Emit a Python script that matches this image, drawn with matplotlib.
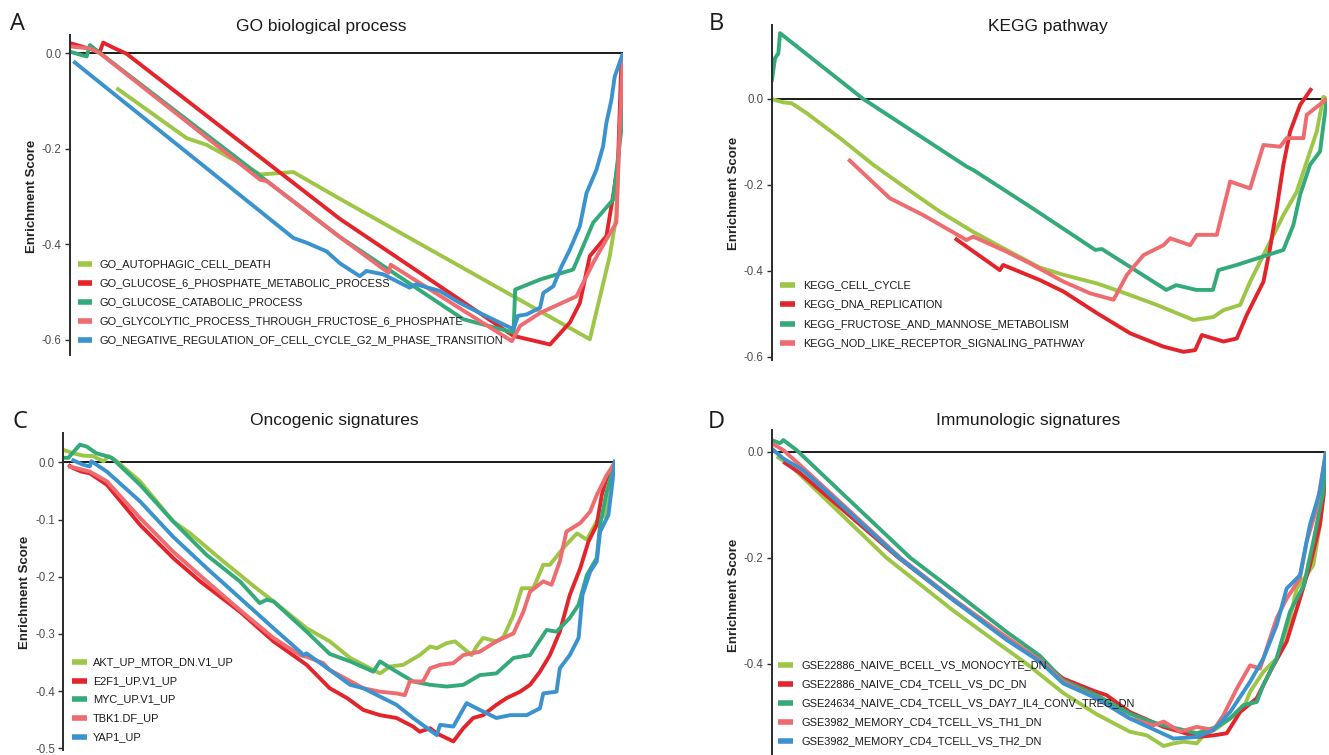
import matplotlib
matplotlib.use("Agg")
import matplotlib.pyplot as plt
from matplotlib.lines import Line2D

plt.rcParams['font.family'] = ['Liberation Sans', 'DejaVu Sans']
plt.rcParams['axes.unicode_minus'] = False

# ---------------- data: running enrichment scores (rank fraction, ES) ----------------
# A. GO biological process
go_names = ["GO_AUTOPHAGIC_CELL_DEATH",
            "GO_GLUCOSE_6_PHOSPHATE_METABOLIC_PROCESS",
            "GO_GLUCOSE_CATABOLIC_PROCESS",
            "GO_GLYCOLYTIC_PROCESS_THROUGH_FRUCTOSE_6_PHOSPHATE",
            "GO_NEGATIVE_REGULATION_OF_CELL_CYCLE_G2_M_PHASE_TRANSITION"]
go_autophagic_x = [0.084, 0.211, 0.247, 0.344, 0.404, 0.488, 0.940, 0.976, 0.988, 0.994, 1.0]
go_autophagic_y = [-0.073, -0.178, -0.192, -0.254, -0.249, -0.305, -0.599, -0.425, -0.341, -0.150, 0.0]
go_g6p_x = [0.0, 0.054, 0.060, 0.081, 0.102, 0.488, 0.802, 0.868, 0.904, 0.922, 0.940, 0.970, 0.982, 0.991, 0.997, 1.0]
go_g6p_y = [0.021, 0.003, 0.022, 0.010, -0.001, -0.347, -0.592, -0.610, -0.564, -0.523, -0.425, -0.383, -0.300, -0.230, -0.021, 0.0]
go_catabolic_x = [0.0, 0.030, 0.036, 0.051, 0.488, 0.711, 0.802, 0.805, 0.850, 0.910, 0.946, 0.982, 0.997, 1.0]
go_catabolic_y = [0.003, -0.007, 0.017, 0.003, -0.385, -0.557, -0.585, -0.495, -0.474, -0.453, -0.355, -0.307, -0.160, 0.0]
go_glycolytic_x = [0.0, 0.036, 0.054, 0.344, 0.356, 0.488, 0.576, 0.580, 0.799, 0.814, 0.850, 0.916, 0.946, 0.970, 0.988, 0.994, 1.0]
go_glycolytic_y = [0.014, 0.010, 0.0, -0.265, -0.268, -0.385, -0.460, -0.443, -0.603, -0.571, -0.544, -0.509, -0.439, -0.390, -0.355, -0.160, 0.0]
go_negreg_x = [0.006, 0.404, 0.428, 0.464, 0.488, 0.524, 0.536, 0.566, 0.614, 0.626, 0.669, 0.705, 0.741, 0.802,
               0.810, 0.826, 0.850, 0.856, 0.874, 0.889, 0.904, 0.922, 0.934, 0.952, 0.964, 0.970, 0.979, 0.985, 1.0]
go_negreg_y = [-0.017, -0.387, -0.397, -0.415, -0.440, -0.467, -0.456, -0.463, -0.491, -0.484, -0.498, -0.523, -0.544, -0.578,
               -0.550, -0.547, -0.533, -0.502, -0.488, -0.446, -0.411, -0.362, -0.293, -0.244, -0.195, -0.146, -0.098, -0.049, 0.0]

# B. KEGG pathway
kegg_names = ["KEGG_CELL_CYCLE",
              "KEGG_DNA_REPLICATION",
              "KEGG_FRUCTOSE_AND_MANNOSE_METABOLISM",
              "KEGG_NOD_LIKE_RECEPTOR_SIGNALING_PATHWAY"]
kegg_cycle_x = [0.0, 0.021, 0.036, 0.063, 0.123, 0.183, 0.243, 0.303, 0.363, 0.423, 0.483, 0.526, 0.586, 0.646, 0.694,
                0.760, 0.796, 0.814, 0.844, 0.862, 0.886, 0.922, 0.946, 0.964, 0.982, 0.994, 1.0]
kegg_cycle_y = [0.0, -0.008, -0.010, -0.033, -0.091, -0.153, -0.208, -0.262, -0.309, -0.351, -0.392, -0.409, -0.429, -0.456, -0.479,
                -0.514, -0.507, -0.491, -0.479, -0.425, -0.363, -0.270, -0.216, -0.146, -0.076, 0.005, 0.0]
kegg_dna_x = [0.330, 0.411, 0.417, 0.483, 0.526, 0.586, 0.646, 0.706, 0.742, 0.763, 0.775, 0.814, 0.838, 0.856,
              0.886, 0.898, 0.910, 0.922, 0.934, 0.952, 0.973]
kegg_dna_y = [-0.324, -0.398, -0.386, -0.421, -0.448, -0.498, -0.545, -0.576, -0.588, -0.584, -0.549, -0.564, -0.557, -0.502,
              -0.425, -0.347, -0.254, -0.153, -0.076, -0.014, 0.025]
kegg_fructose_x = [0.0, 0.006, 0.012, 0.015, 0.165, 0.351, 0.363, 0.465, 0.583, 0.595, 0.711, 0.729, 0.765, 0.795,
                   0.805, 0.838, 0.874, 0.922, 0.940, 0.952, 0.970, 0.988, 1.0]
kegg_fructose_y = [0.040, 0.095, 0.106, 0.153, 0.0, -0.157, -0.165, -0.250, -0.351, -0.349, -0.444, -0.433, -0.444, -0.444,
                   -0.398, -0.386, -0.371, -0.351, -0.293, -0.223, -0.153, -0.122, 0.0]
kegg_nod_x = [0.138, 0.213, 0.273, 0.351, 0.363, 0.423, 0.465, 0.526, 0.574, 0.616, 0.640, 0.670, 0.706, 0.718, 0.754,
              0.766, 0.802, 0.826, 0.862, 0.886, 0.916, 0.928, 0.958, 0.964, 1.0]
kegg_nod_y = [-0.140, -0.231, -0.270, -0.328, -0.320, -0.355, -0.382, -0.425, -0.452, -0.467, -0.409, -0.363, -0.340, -0.324, -0.340,
              -0.316, -0.316, -0.192, -0.208, -0.107, -0.111, -0.091, -0.091, -0.037, 0.0]

# C. Oncogenic signatures
onc_names = ["AKT_UP_MTOR_DN.V1_UP", "E2F1_UP.V1_UP", "MYC_UP.V1_UP", "TBK1.DF_UP", "YAP1_UP"]
onc_akt_x = [0.0, 0.018, 0.036, 0.054, 0.073, 0.082, 0.097, 0.139, 0.199, 0.230, 0.290, 0.350, 0.381, 0.441, 0.483,
             0.520, 0.544, 0.574, 0.592, 0.616, 0.646, 0.665, 0.677, 0.695, 0.710, 0.725, 0.740, 0.749, 0.761, 0.785,
             0.798, 0.816, 0.831, 0.852, 0.870, 0.882, 0.906, 0.931, 0.949, 0.967, 0.982, 0.991, 1.0]
onc_akt_y = [0.022, 0.016, 0.012, 0.011, 0.002, 0.011, 0.002, -0.033, -0.103, -0.124, -0.173, -0.220, -0.243, -0.290, -0.313,
             -0.342, -0.354, -0.369, -0.357, -0.354, -0.337, -0.322, -0.325, -0.316, -0.313, -0.325, -0.337, -0.322, -0.307, -0.313,
             -0.305, -0.267, -0.220, -0.220, -0.179, -0.179, -0.150, -0.124, -0.135, -0.103, -0.092, -0.027, 0.0]
onc_e2f1_x = [0.009, 0.018, 0.033, 0.048, 0.079, 0.139, 0.199, 0.248, 0.320, 0.381, 0.441, 0.483, 0.514, 0.544, 0.574,
              0.604, 0.634, 0.646, 0.665, 0.677, 0.707, 0.725, 0.743, 0.761, 0.785, 0.804, 0.828, 0.846, 0.864, 0.882,
              0.900, 0.918, 0.937, 0.952, 0.967, 0.976, 0.985, 1.0]
onc_e2f1_y = [-0.004, -0.010, -0.016, -0.019, -0.039, -0.109, -0.167, -0.208, -0.261, -0.313, -0.354, -0.395, -0.412, -0.433, -0.442,
              -0.447, -0.462, -0.471, -0.465, -0.474, -0.488, -0.465, -0.447, -0.442, -0.424, -0.412, -0.401, -0.389, -0.366, -0.337,
              -0.296, -0.232, -0.185, -0.138, -0.109, -0.057, -0.027, 0.0]
onc_myc_x = [0.0, 0.009, 0.030, 0.042, 0.060, 0.079, 0.088, 0.139, 0.199, 0.260, 0.320, 0.356, 0.369, 0.381, 0.441, 0.483,
             0.520, 0.562, 0.574, 0.604, 0.634, 0.665, 0.695, 0.725, 0.755, 0.785, 0.816, 0.846, 0.876, 0.894, 0.918,
             0.934, 0.949, 0.967, 0.973, 0.985, 1.0]
onc_myc_y = [0.008, 0.008, 0.031, 0.028, 0.016, 0.011, 0.008, -0.039, -0.103, -0.162, -0.208, -0.246, -0.240, -0.243, -0.296, -0.335,
             -0.348, -0.366, -0.348, -0.366, -0.383, -0.389, -0.392, -0.389, -0.372, -0.369, -0.342, -0.337, -0.293, -0.296, -0.272,
             -0.249, -0.197, -0.167, -0.109, -0.051, 0.0]
onc_tbk1_x = [0.009, 0.024, 0.048, 0.079, 0.139, 0.199, 0.260, 0.320, 0.381, 0.429, 0.441, 0.471, 0.483, 0.544, 0.574,
              0.604, 0.619, 0.628, 0.652, 0.665, 0.683, 0.707, 0.725, 0.755, 0.785, 0.816, 0.834, 0.846, 0.870, 0.885,
              0.900, 0.912, 0.937, 0.955, 0.967, 0.985, 1.0]
onc_tbk1_y = [-0.007, -0.010, -0.016, -0.033, -0.097, -0.156, -0.208, -0.258, -0.307, -0.337, -0.340, -0.351, -0.363, -0.395, -0.401,
              -0.404, -0.407, -0.383, -0.383, -0.360, -0.354, -0.351, -0.337, -0.331, -0.313, -0.299, -0.261, -0.226, -0.208, -0.214,
              -0.173, -0.121, -0.106, -0.086, -0.057, -0.022, 0.0]
onc_yap1_x = [0.015, 0.036, 0.048, 0.051, 0.079, 0.139, 0.199, 0.260, 0.320, 0.381, 0.429, 0.435, 0.441, 0.483, 0.520,
              0.544, 0.604, 0.634, 0.677, 0.683, 0.707, 0.731, 0.749, 0.785, 0.810, 0.840, 0.864, 0.870, 0.894, 0.900,
              0.918, 0.934, 0.941, 0.955, 0.967, 0.973, 0.988, 0.994, 1.0]
onc_yap1_y = [0.005, -0.004, -0.007, 0.002, -0.016, -0.068, -0.130, -0.185, -0.237, -0.290, -0.331, -0.337, -0.334, -0.363, -0.389,
              -0.395, -0.424, -0.447, -0.477, -0.459, -0.462, -0.421, -0.430, -0.447, -0.442, -0.442, -0.430, -0.404, -0.401, -0.360,
              -0.337, -0.307, -0.232, -0.191, -0.173, -0.121, -0.092, -0.045, 0.005]

# D. Immunologic signatures
imm_names = ["GSE22886_NAIVE_BCELL_VS_MONOCYTE_DN",
             "GSE22886_NAIVE_CD4_TCELL_VS_DC_DN",
             "GSE24634_NAIVE_CD4_TCELL_VS_DAY7_IL4_CONV_TREG_DN",
             "GSE3982_MEMORY_CD4_TCELL_VS_TH1_DN",
             "GSE3982_MEMORY_CD4_TCELL_VS_TH2_DN"]
imm_bcell_x = [0.009, 0.033, 0.207, 0.328, 0.400, 0.460, 0.526, 0.586, 0.646, 0.677, 0.707, 0.725, 0.743, 0.767,
               0.779, 0.803, 0.827, 0.851, 0.863, 0.887, 0.911, 0.935, 0.947, 0.965, 0.977, 0.989, 0.998, 1.0]
imm_bcell_y = [-0.009, -0.025, -0.200, -0.300, -0.355, -0.400, -0.455, -0.495, -0.528, -0.535, -0.555, -0.550, -0.547, -0.550,
               -0.535, -0.522, -0.503, -0.484, -0.453, -0.415, -0.390, -0.314, -0.258, -0.233, -0.214, -0.138, -0.044, 0.0]
imm_dc_x = [0.021, 0.051, 0.229, 0.328, 0.424, 0.484, 0.526, 0.586, 0.604, 0.646, 0.707, 0.737, 0.767, 0.797, 0.821,
            0.845, 0.875, 0.899, 0.929, 0.953, 0.971, 0.989, 0.996, 1.0]
imm_dc_y = [-0.019, -0.040, -0.200, -0.280, -0.352, -0.393, -0.428, -0.453, -0.459, -0.491, -0.519, -0.528, -0.538, -0.535, -0.531,
            -0.491, -0.465, -0.415, -0.358, -0.277, -0.214, -0.138, -0.080, 0.0]
imm_treg_x = [0.0, 0.015, 0.021, 0.045, 0.250, 0.328, 0.424, 0.484, 0.526, 0.586, 0.646, 0.683, 0.707, 0.767, 0.803,
              0.827, 0.851, 0.875, 0.887, 0.911, 0.935, 0.960, 0.977, 0.995, 1.0]
imm_treg_y = [0.022, 0.016, 0.022, 0.003, -0.200, -0.262, -0.340, -0.385, -0.431, -0.459, -0.494, -0.509, -0.516, -0.531, -0.519,
              -0.503, -0.478, -0.472, -0.440, -0.390, -0.302, -0.252, -0.170, -0.075, 0.0]
imm_th1_x = [0.0, 0.021, 0.051, 0.232, 0.328, 0.424, 0.484, 0.526, 0.586, 0.646, 0.689, 0.707, 0.737, 0.767, 0.797,
             0.815, 0.839, 0.863, 0.881, 0.911, 0.929, 0.953, 0.965, 0.983, 1.0]
imm_th1_y = [0.016, 0.003, -0.025, -0.200, -0.278, -0.350, -0.393, -0.434, -0.465, -0.503, -0.516, -0.509, -0.528, -0.519, -0.525,
             -0.497, -0.447, -0.403, -0.409, -0.314, -0.277, -0.239, -0.170, -0.107, 0.0]
imm_th2_x = [0.0, 0.021, 0.051, 0.060, 0.230, 0.328, 0.424, 0.484, 0.526, 0.586, 0.646, 0.725, 0.767, 0.797, 0.827,
             0.863, 0.887, 0.911, 0.929, 0.953, 0.971, 0.989, 1.0]
imm_th2_y = [0.006, -0.013, -0.031, -0.038, -0.200, -0.280, -0.355, -0.396, -0.437, -0.465, -0.503, -0.541, -0.538, -0.525, -0.491,
             -0.434, -0.390, -0.327, -0.258, -0.233, -0.138, -0.075, 0.0]

# ---------------- styling ----------------
COLORS = ["#9DC646", "#E3242B", "#34A97A", "#EE6B70", "#3A93CF"]
W, H = 1329, 755
fig = plt.figure(figsize=(W / 100, H / 100), dpi=100)


def fx(px):
    return px / W


def fy(py):
    return 1 - py / H


def make_panel(box, ylim, yticks, ylabels, curves, names, legend, title, title_xy,
               letter, letter_xy, ylabel_xy):
    left, top, right, bottom = box
    ax = fig.add_axes([fx(left), fy(bottom), (right - left) / W, (bottom - top) / H])
    ax.set_xlim(0, 1)
    ax.set_ylim(*ylim)
    for s in ("top", "right", "bottom"):
        ax.spines[s].set_visible(False)
    ax.spines["left"].set_color("#2b2b2b")
    ax.spines["left"].set_linewidth(1.4)
    ax.set_xticks([])
    ax.set_yticks(yticks)
    ax.set_yticklabels(ylabels)
    ax.tick_params(axis="y", length=3.5, width=1.0, color="#2b2b2b", labelsize=8.3,
                   labelcolor="#4d4d4d", pad=2.5)
    ax.patch.set_alpha(0)
    ax.axhline(0, color="#1a1a1a", lw=1.4, zorder=1)
    for (xs, ys), c in zip(curves, COLORS):
        ax.plot(xs, ys, color=c, lw=2.8, solid_joinstyle="round", solid_capstyle="butt", zorder=2)

    # legend: coloured key segment followed by the gene-set name
    sx0, sx1, tx, rows = legend
    for name, c, ry in zip(names, COLORS, rows):
        fig.add_artist(Line2D([fx(sx0), fx(sx1)], [fy(ry), fy(ry)], transform=fig.transFigure,
                              color=c, lw=4.0, solid_capstyle="butt"))
        fig.text(fx(tx), fy(ry), name, ha="left", va="center", fontsize=7.9, color="#1a1a1a")

    fig.text(fx(title_xy[0]), fy(title_xy[1]), title, ha="center", va="center",
             fontsize=12.5, color="#1a1a1a")
    fig.text(fx(letter_xy[0]), fy(letter_xy[1]), letter, ha="center", va="center",
             fontsize=17, color="#1a1a1a", family=["Open Sans", "DejaVu Sans"])
    fig.text(fx(ylabel_xy[0]), fy(ylabel_xy[1]), "Enrichment Score", rotation=90,
             ha="center", va="center", fontsize=9.5, fontweight="bold", color="#222222")
    return ax


make_panel((70, 35, 623, 355), (-0.632, 0.038), [0, -0.2, -0.4, -0.6], ["0.0", "-0.2", "-0.4", "-0.6"],
           [(go_autophagic_x, go_autophagic_y), (go_g6p_x, go_g6p_y), (go_catabolic_x, go_catabolic_y),
            (go_glycolytic_x, go_glycolytic_y), (go_negreg_x, go_negreg_y)],
           go_names, (78, 92, 100, [264, 283, 302, 321, 340]),
           "GO biological process", (321, 27), "A", (18, 24), (32, 196))

make_panel((771.7, 25, 1326.7, 360), (-0.607, 0.172), [0, -0.2, -0.4, -0.6], ["0.0", "-0.2", "-0.4", "-0.6"],
           [(kegg_cycle_x, kegg_cycle_y), (kegg_dna_x, kegg_dna_y), (kegg_fructose_x, kegg_fructose_y),
            (kegg_nod_x, kegg_nod_y)],
           kegg_names, (780, 795, 803, [285, 304, 324, 343]),
           "KEGG pathway", (1048, 27), "B", (716, 24), (734, 193))

make_panel((63.3, 433.3, 615, 750), (-0.503, 0.051), [0, -0.1, -0.2, -0.3, -0.4, -0.5],
           ["0.0", "-0.1", "-0.2", "-0.3", "-0.4", "-0.5"],
           [(onc_akt_x, onc_akt_y), (onc_e2f1_x, onc_e2f1_y), (onc_myc_x, onc_myc_y),
            (onc_tbk1_x, onc_tbk1_y), (onc_yap1_x, onc_yap1_y)],
           onc_names, (72, 87, 93, [661.7, 680.7, 699, 717.7, 736.7]),
           "Oncogenic signatures", (334, 421), "C", (20, 422), (25, 592))

make_panel((771.7, 430, 1326, 755), (-0.572, 0.041), [0, -0.2, -0.4], ["0.0", "-0.2", "-0.4"],
           [(imm_bcell_x, imm_bcell_y), (imm_dc_x, imm_dc_y), (imm_treg_x, imm_treg_y),
            (imm_th1_x, imm_th1_y), (imm_th2_x, imm_th2_y)],
           imm_names, (778, 793, 802, [665, 684.3, 703.3, 722.3, 741]),
           "Immunologic signatures", (1028, 421), "D", (716, 422), (734, 595))

fig.savefig("out.png", dpi=100, facecolor="white")
